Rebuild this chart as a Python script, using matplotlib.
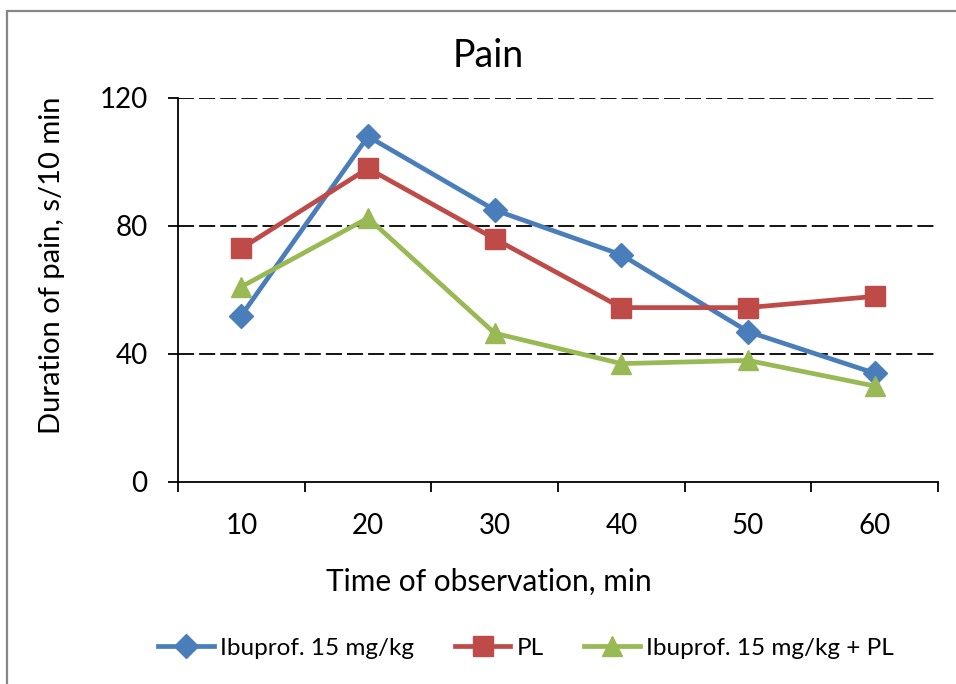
import numpy as np
import matplotlib.pyplot as plt
from matplotlib.patches import Rectangle

plt.rcParams['font.family'] = ['Lato', 'DejaVu Sans']

times = ['10', '20', '30', '40', '50', '60']
ibuprof = [52, 108, 85, 71, 47, 34]
placebo = [73, 98, 76, 54.5, 54.5, 58]
ibuprof_pl = [61, 82.5, 46.5, 37, 38, 30]
y_ticks = [0, 40, 80, 120]

fig = plt.figure(figsize=(9.56, 6.84), dpi=100)
ax = fig.add_axes([178/956, 1 - 482/684, 760/956, 384/684])

x = np.arange(len(times))
ax.plot(x, ibuprof, color='#4A7EBB', lw=3.4, marker='D', ms=12.5, label='Ibuprof. 15 mg/kg')
ax.plot(x, placebo, color='#BE4B48', lw=3.4, marker='s', ms=14, label='PL')
ax.plot(x, ibuprof_pl, color='#98B954', lw=3.4, marker='^', ms=14, label='Ibuprof. 15 mg/kg + PL')

ax.set_xlim(-0.5, len(times) - 0.5)
ax.set_ylim(0, 120)
ax.set_yticks(y_ticks)
ax.set_xticks(x)
ax.set_xticklabels(times)
ax.set_xticks(np.arange(-0.5, len(times)), minor=True)
ax.tick_params(axis='x', which='major', length=0, pad=22, labelsize=20)
ax.tick_params(axis='x', which='minor', length=7, width=1.3, direction='out')
ax.tick_params(axis='y', length=7, width=1.3, direction='out', pad=15, labelsize=20)
for y in y_ticks[1:]:
    ax.axhline(y, color='black', lw=1.3, ls=(0, (8.9, 2.8)), zorder=0)
for s in ['top', 'right']:
    ax.spines[s].set_visible(False)
ax.spines['left'].set_linewidth(1.3)
ax.spines['bottom'].set_linewidth(1.3)

fig.text(488/956, 1 - 67/684, 'Pain', ha='center', va='baseline', fontsize=27)
fig.text(489/956, 1 - 582/684, 'Time of observation, min', ha='center', va='center', fontsize=21.5)
fig.text(52/956, 1 - 265/684, 'Duration of pain, s/10 min', ha='center', va='center',
         rotation=90, fontsize=21)

fig.legend(loc='center', bbox_to_anchor=(526/956, 1 - 648/684), ncol=3, frameon=False,
           fontsize=17.5, handlelength=2.3, handletextpad=0.25, columnspacing=1.65)

fig.patches.append(Rectangle((7/956, -0.1), 1.2, (684 - 11)/684 + 0.1, transform=fig.transFigure,
                             fill=False, edgecolor='#868686', lw=1.6))

fig.savefig('out.png', dpi=100)
